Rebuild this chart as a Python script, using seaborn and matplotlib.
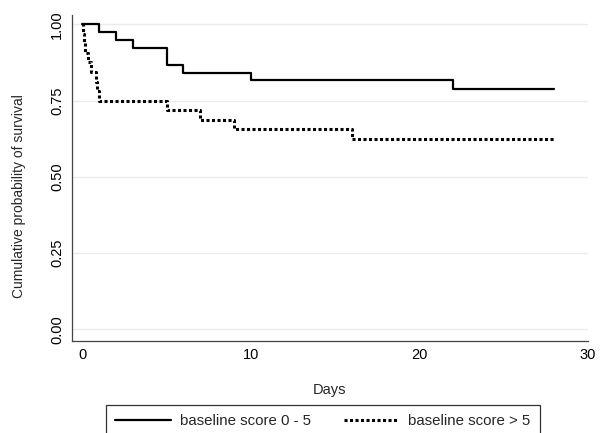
import matplotlib
matplotlib.use("Agg")
import matplotlib.pyplot as plt
import seaborn as sns
import pandas as pd

# Data
group_labels = ["baseline score 0 - 5", "baseline score > 5"]
low_times = [0, 1, 2, 3, 5, 6, 10, 22, 28]
low_surv = [1.0, 0.974, 0.947, 0.921, 0.868, 0.842, 0.816, 0.789, 0.789]
high_times = [0, 0.05, 0.1, 0.15, 0.35, 0.5, 0.8, 0.9, 1.0, 5, 7, 9, 16, 28]
high_surv = [1.0, 0.969, 0.938, 0.906, 0.875, 0.844, 0.8125, 0.781, 0.75,
             0.719, 0.6875, 0.656, 0.625, 0.625]
x_ticks = [0, 10, 20, 30]
y_ticks = [0.0, 0.25, 0.5, 0.75, 1.0]
y_tick_labels = ["0.00", "0.25", "0.50", "0.75", "1.00"]

df = pd.concat([
    pd.DataFrame({"Days": low_times, "surv": low_surv, "group": group_labels[0]}),
    pd.DataFrame({"Days": high_times, "surv": high_surv, "group": group_labels[1]}),
], ignore_index=True)

sns.set_style("white")
plt.rcParams["font.family"] = ["Liberation Sans", "DejaVu Sans"]

fig = plt.figure(figsize=(6.05, 4.33), dpi=100)
ax = fig.add_axes([0.1185, 0.2125, 0.8535, 0.7525])

ax.set_axisbelow(True)
for yv in y_ticks:
    ax.axhline(yv, color="#ebebeb", lw=1.0, zorder=0)

styles = {group_labels[0]: dict(ls="-", lw=1.6),
          group_labels[1]: dict(ls=(0, (1.0, 0.8)), lw=2.2)}
for g in group_labels:
    sub = df[df["group"] == g]
    sns.lineplot(data=sub, x="Days", y="surv", ax=ax, color="black",
                 drawstyle="steps-post", estimator=None, sort=False,
                 label=g, linestyle=styles[g]["ls"], linewidth=styles[g]["lw"])

ax.set_xlim(-0.63, 30.0)
ax.set_ylim(-0.038, 1.03)
ax.set_xticks(x_ticks)
ax.set_yticks(y_ticks)
ax.set_yticklabels(y_tick_labels, rotation=90, va="center")
ax.tick_params(axis="both", direction="out", length=3.8, width=0.9,
               colors="#333333", labelsize=10.5, labelcolor="black")
ax.tick_params(axis="x", pad=1.5)
ax.tick_params(axis="y", pad=1.5)
for s in ["top", "right"]:
    ax.spines[s].set_visible(False)
for s in ["left", "bottom"]:
    ax.spines[s].set_color("#444444")
    ax.spines[s].set_linewidth(0.9)

ax.set_xlabel("Days", fontsize=10.5, labelpad=15)
ax.set_ylabel("Cumulative probability of survival", fontsize=10)
ax.yaxis.set_label_coords(-0.089, 0.445)

ax.get_legend().remove()
handles, labels = ax.get_legend_handles_labels()
leg = fig.legend(handles, labels, ncol=2, loc="upper center",
                 bbox_to_anchor=(0.534, 0.065), frameon=True, fancybox=False,
                 edgecolor="black", fontsize=10.8, handlelength=3.7,
                 handletextpad=0.6, columnspacing=2.2, borderpad=0.6,
                 borderaxespad=0)
leg.get_frame().set_linewidth(0.9)

fig.savefig("out.png", dpi=100)
